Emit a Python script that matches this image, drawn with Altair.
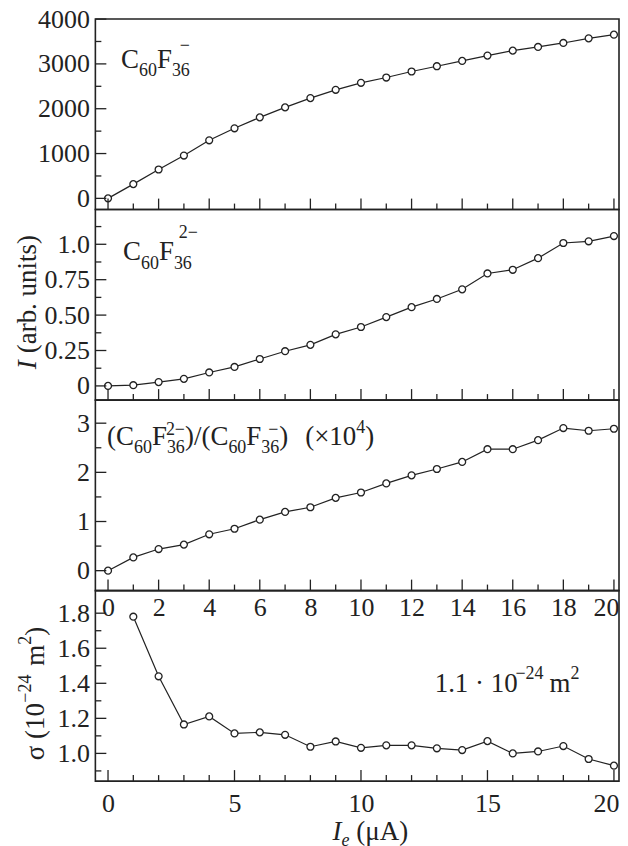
import altair as alt
import pandas as pd

# ---------------- data ----------------
ie = list(range(21))
anion_1 = [0, 318, 644, 955, 1296, 1563, 1807, 2030, 2237, 2422, 2578,
           2696, 2830, 2948, 3067, 3185, 3296, 3378, 3467, 3570, 3652]
anion_2 = [0, 0.005, 0.027, 0.05, 0.095, 0.134, 0.19, 0.245, 0.29, 0.364, 0.416,
           0.486, 0.556, 0.614, 0.682, 0.794, 0.82, 0.902, 1.009, 1.021, 1.058]
ratio = [0, 0.27, 0.44, 0.53, 0.74, 0.853, 1.038, 1.195, 1.29, 1.481, 1.59,
         1.775, 1.939, 2.068, 2.212, 2.471, 2.471, 2.655, 2.901, 2.846, 2.887]
ie_sigma = list(range(1, 21))
sigma = [1.78, 1.44, 1.165, 1.211, 1.114, 1.12, 1.106, 1.038, 1.068, 1.032,
         1.046, 1.046, 1.029, 1.019, 1.07, 1.0, 1.011, 1.042, 0.968, 0.93]

# tick positions
x_major_even = [0, 2, 4, 6, 8, 10, 12, 14, 16, 18, 20]
x_minor_odd = [1, 3, 5, 7, 9, 11, 13, 15, 17, 19]
x_major_five = [0, 5, 10, 15, 20]
x_minor_five = [v for v in range(21) if v % 5 != 0]
y1_major = [0, 1000, 2000, 3000, 4000]
y1_minor = [500, 1500, 2500, 3500]
y2_major = [0, 0.25, 0.5, 0.75, 1.0]
y2_minor = [0.125, 0.375, 0.625, 0.875, 1.125]
y3_major = [0, 1, 2, 3]
y3_minor = [0.5, 1.5, 2.5]
y4_major = [1.0, 1.2, 1.4, 1.6, 1.8]
y4_minor = [0.9, 1.1, 1.3, 1.5, 1.7]

# ---------------- style ----------------
FONT = "Liberation Serif"
INK = "#222222"
FS = 26          # tick labels
FT = 27          # texts
FSUB = 18        # sub/superscripts
W = 525
H = 191
XDOM = [-0.5, 20.2]
ONE = alt.Data(values=[{"k": 1}])

EM = {"0": .5, "1": .5, "2": .5, "3": .5, "4": .5, "5": .5, "6": .5, "7": .5,
      "8": .5, "9": .5, "C": .667, "F": .556, "(": .333, ")": .333, "/": .278,
      " ": .25, "×": .564, "−": .564, ".": .25, "·": .25, "m": .778, "σ": .55,
      "μ": .5, "A": .722, "I": .333, "e": .444, "a": .444, "r": .333, "b": .5,
      "u": .5, "n": .5, "i": .278, "t": .278, "s": .389}


def text_layers(runs, x0, y0, rotate=False):
    """runs: (text, size, rise, italic, stacked, dx)"""
    layers = []
    cur = 0.0
    prev_start = 0.0
    for t, fs, rise, italic, stacked, dx in runs:
        w = sum(EM.get(c, 0.5) for c in t) * fs
        if stacked:
            start = prev_start + dx
            new_cur = max(cur, start + w)
        else:
            start = cur + dx
            new_cur = start + w
            prev_start = start
        if rotate:
            px, py, ang = x0 - rise, y0 - start, 270
        else:
            px, py, ang = x0 + start, y0 - rise, 0
        layers.append(
            alt.Chart(ONE).mark_text(
                text=t, font=FONT, fontSize=fs,
                fontStyle="italic" if italic else "normal",
                align="left", baseline="alphabetic", angle=ang, color=INK,
            ).encode(x=alt.value(px), y=alt.value(py))
        )
        cur = new_cur
    return layers


def panel(xv, yv, ydom, ymaj, ymin, ylab, xmaj, xmin, xlabels, xpad, texts):
    sx = alt.Scale(domain=XDOM, nice=False, zero=False)
    sy = alt.Scale(domain=ydom, nice=False, zero=False)
    df = pd.DataFrame({"ie": xv, "v": yv})
    if xlabels:
        xaxis = alt.Axis(values=xlabels, ticks=False, tickSize=0, domain=False,
                         grid=False, labelPadding=xpad, labelFont=FONT,
                         labelFontSize=FS, labelColor=INK, title=None,
                         labelFlush=False, labelOverlap=False, format="d",
                         labelAlign=alt.condition("datum.value == 20",
                                                  alt.value("right"), alt.value("center")),
                         labelOffset=alt.condition("datum.value == 20",
                                                   alt.value(5), alt.value(0)))
    else:
        xaxis = None
    yaxis = alt.Axis(values=ymaj, ticks=False, tickSize=0, domain=False,
                     grid=False, labelPadding=6, labelFont=FONT,
                     labelFontSize=FS, labelColor=INK, title=None,
                     labelFlush=False, labelOverlap=False, labelExpr=ylab)
    line = alt.Chart(df).mark_line(color=INK, strokeWidth=1.2).encode(
        x=alt.X("ie:Q", scale=sx, axis=xaxis),
        y=alt.Y("v:Q", scale=sy, axis=yaxis),
    )
    pts = alt.Chart(df).mark_point(
        shape="circle", filled=True, fill="white", stroke=INK,
        strokeWidth=1.3, size=48, opacity=1,
    ).encode(
        x=alt.X("ie:Q", scale=sx, axis=xaxis),
        y=alt.Y("v:Q", scale=sy, axis=yaxis),
    )

    def yt(vals, ln):
        return alt.Chart(pd.DataFrame({"ie": [0] * len(vals), "v": vals})).mark_rule(
            color=INK, strokeWidth=1.3).encode(
            y=alt.Y("v:Q", scale=sy, axis=yaxis),
            x=alt.value(0), x2=alt.value(ln))

    def xt(vals, ln):
        return alt.Chart(pd.DataFrame({"ie": vals, "v": [ydom[0]] * len(vals)})).mark_rule(
            color=INK, strokeWidth=1.3).encode(
            x=alt.X("ie:Q", scale=sx, axis=xaxis),
            y=alt.value(H), y2=alt.value(H - ln))

    layers = [line, pts, yt(ymaj, 11), yt(ymin, 6), xt(xmaj, 11), xt(xmin, 6)]
    layers += texts
    return alt.layer(*layers).properties(width=W, height=H)


# ---------------- annotations ----------------
t1 = text_layers([
    ("C", FT, 0, False, False, 0),
    ("60", FSUB, -8, False, False, 0),
    ("F", FT, 0, False, False, 0),
    ("36", FSUB, -8, False, False, 0),
    ("−", FSUB, 17, False, True, 8),
], 25.7, 49)

t2 = text_layers([
    ("C", FT, 0, False, False, 0),
    ("60", FSUB, -8.4, False, False, 0),
    ("F", FT, 0, False, False, 0),
    ("36", FSUB, -8.4, False, False, 0),
    ("2−", FSUB, 23, False, True, 5),
], 27.7, 51)
t2 += text_layers([
    ("I", FT, 0, True, False, 0),
    ("(arb. units)", FT, 0, False, False, 7),
], -59.7, 160, rotate=True)

t3 = text_layers([
    ("(", FT, 0, False, False, 0),
    ("C", FT, 0, False, False, 0),
    ("60", FSUB, -8, False, False, 0),
    ("F", FT, 0, False, False, 0),
    ("36", FSUB, -8, False, False, 0),
    ("2−", FSUB, 10, False, True, -1),
    (")", FT, 0, False, False, 0),
    ("/", FT, 0, False, False, 0),
    ("(", FT, 0, False, False, 0),
    ("C", FT, 0, False, False, 0),
    ("60", FSUB, -8, False, False, 0),
    ("F", FT, 0, False, False, 0),
    ("36", FSUB, -8, False, False, 0),
    ("−", FSUB, 10, False, True, 7),
    (")", FT, 0, False, False, 0),
    ("(×10", FT, 0, False, False, 17),
    ("4", FSUB, 12, False, False, 0),
    (")", FT, 0, False, False, 0),
], 11.7, 45)

t4 = text_layers([
    ("1.1 · 10", FT, 0, False, False, 0),
    ("−24", FSUB, 13.4, False, False, 0),
    ("m", FT, 0, False, False, 6),
    ("2", FSUB, 13.4, False, False, 0),
], 340.2, 101.7)
t4 += text_layers([
    ("σ (10", FT, 0, False, False, 0),
    ("−24", FSUB, 13, False, False, 0),
    ("m", FT, 0, False, False, 9),
    ("2", FSUB, 13, False, False, 0),
    (")", FT, 0, False, False, 0),
], -51.7, 170, rotate=True)
t4 += text_layers([
    ("I", FT, 0, True, False, 0),
    ("e", FSUB, -6, True, False, 0),
    ("(μA)", FT, 0, False, False, 7),
], 237.7, 250)

# ---------------- panels ----------------
p1 = panel(ie, anion_1, [-250, 4000], y1_major, y1_minor, "format(datum.value, 'd')",
           x_major_even, x_minor_odd, None, 0, t1)
p2 = panel(ie, anion_2, [-0.1, 1.245], y2_major, y2_minor,
           "datum.value == 0 ? '0' : datum.value == 1 ? '1.0' : format(datum.value, '.2f')",
           x_major_even, x_minor_odd, None, 0, t2)
p3 = panel(ie, ratio, [-0.405, 3.47], y3_major, y3_minor, "format(datum.value, 'd')",
           x_major_even, x_minor_odd, x_major_even, 4, t3)
p4 = panel(ie_sigma, sigma, [0.842, 1.929], y4_major, y4_minor, "format(datum.value, '.1f')",
           x_major_five, x_minor_five, x_major_five, 9, t4)

chart = alt.vconcat(p1, p2, p3, p4, spacing=0, bounds="flush").properties(
    padding={"left": 4.6, "top": -4, "right": -1, "bottom": 0},
    background="white",
).configure_view(stroke=INK, strokeWidth=1.6)

chart.save("out.html", embed_options={"renderer": "svg", "actions": False})
